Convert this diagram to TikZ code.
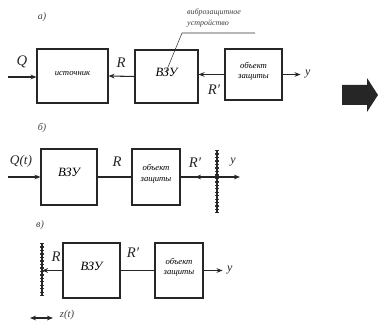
\documentclass[tikz,border=0pt]{standalone}
\usepackage{fontspec}
\setmainfont{Liberation Serif}
\usetikzlibrary{arrows.meta,calc,fit}

\begin{document}
\begin{tikzpicture}[x=0.75pt,y=-0.75pt,>={Stealth[length=4.5pt,width=3.5pt]},block/.style={draw=black!85,thick,inner sep=0pt,align=center,font=\itshape\fontsize{6.5}{8}\selectfont},vzu/.style={block,font=\itshape\fontsize{9.5}{10}\selectfont},sig/.style={->,thick,black!85},link/.style={thick,black!85},label/.style={font=\itshape\fontsize{11}{12}\selectfont,text=black!85},small/.style={font=\itshape\fontsize{7.5}{8}\selectfont,text=black!75},wall/.style={line width=3pt,black!80,dash pattern=on 1pt off 1.6pt}]
\useasboundingbox (0,0) rectangle (379,323);
% a)
\node[small] at (42,17) {а)};
\node[block,fit={(37,49) (108,103)}] (src) {источник};
\node[vzu,fit={(135,50) (198,103)}] (vzuA) {ВЗУ};
\node[block,fit={(225,49) (282,100)}] (objA) {объект\\защиты};
\coordinate (qA) at (8,77); \coordinate (yA) at ($(objA.east)+(18,0)$);
\draw[sig] (qA) -- (qA -| src.west); \node[label] at (22,62) {Q};
\draw[sig] (vzuA.west) -- (src.east); \node[label] at (121,63) {R};
\draw[sig] (objA.west) -- (objA.west -| vzuA.east); \node[label] at (214,90) {R′};
\draw[sig] (objA.east) -- (yA); \node[label,font=\itshape\fontsize{9}{10}\selectfont,right] at (yA) {y};
\node[small,font=\itshape\fontsize{6}{7}\selectfont] at (214,12) {виброзащитное};
\node[small,font=\itshape\fontsize{6}{7}\selectfont] at (208,24) {устройство};
\coordinate (ul) at (182,33); \draw[thin,black!80] (255,33) -- (ul) -- (166,72);
\fill[black!85] (342,85) -- (367,85) -- (367,78) -- (378,95) -- (367,112) -- (367,105) -- (342,105) -- cycle;
% б)
\node[small] at (42,128) {б)};
\node[vzu,fit={(41,149) (97,205)}] (vzuB) {ВЗУ};
\node[block,fit={(132,149) (180,205)}] (objB) {объект\\защиты};
\coordinate (qB) at (8,177); \coordinate (wB) at (217,177); \coordinate (yB) at (240,177);
\draw[sig] (qB) -- (vzuB.west); \node[label,font=\itshape\fontsize{10}{11}\selectfont] at (21,161) {Q(t)};
\draw[link] (vzuB.east) -- (objB.west); \node[label] at (117,162) {R};
\draw[link] (objB.east) -- (wB); \draw[sig] (wB) -- (195,177); \node[label] at (195,163) {R′};
\draw[sig] (wB) -- (yB); \node[label,font=\itshape\fontsize{9}{10}\selectfont] at (233,162) {y};
\draw[wall] (217,150) -- (217,213); \draw[thick,black!85] (217,150) -- (217,213);
% в)
\node[small] at (40,225) {в)};
\node[vzu,fit={(63,243) (120,298)}] (vzuC) {ВЗУ};
\node[block,fit={(155,243) (203,298)}] (objC) {объект\\защиты};
\coordinate (wC) at (42,270.5); \coordinate (yC) at ($(objC.east)+(19,0)$);
\draw[wall] (42,243) -- (42,296); \draw[thick,black!85] (42,243) -- (42,296);
\draw[sig] (vzuC.west) -- (wC); \node[label] at (56,257) {R};
\draw[link] (vzuC.east) -- (objC.west); \node[label] at (133,253) {R′};
\draw[sig] (objC.east) -- (yC); \node[label,font=\itshape\fontsize{9}{10}\selectfont,right] at (yC) {y};
\draw[<->,thick,black!85] (30,318) -- (53,318); \node[small,font=\itshape\fontsize{8}{9}\selectfont] at (67,315) {z(t)};
\end{tikzpicture}
\end{document}
